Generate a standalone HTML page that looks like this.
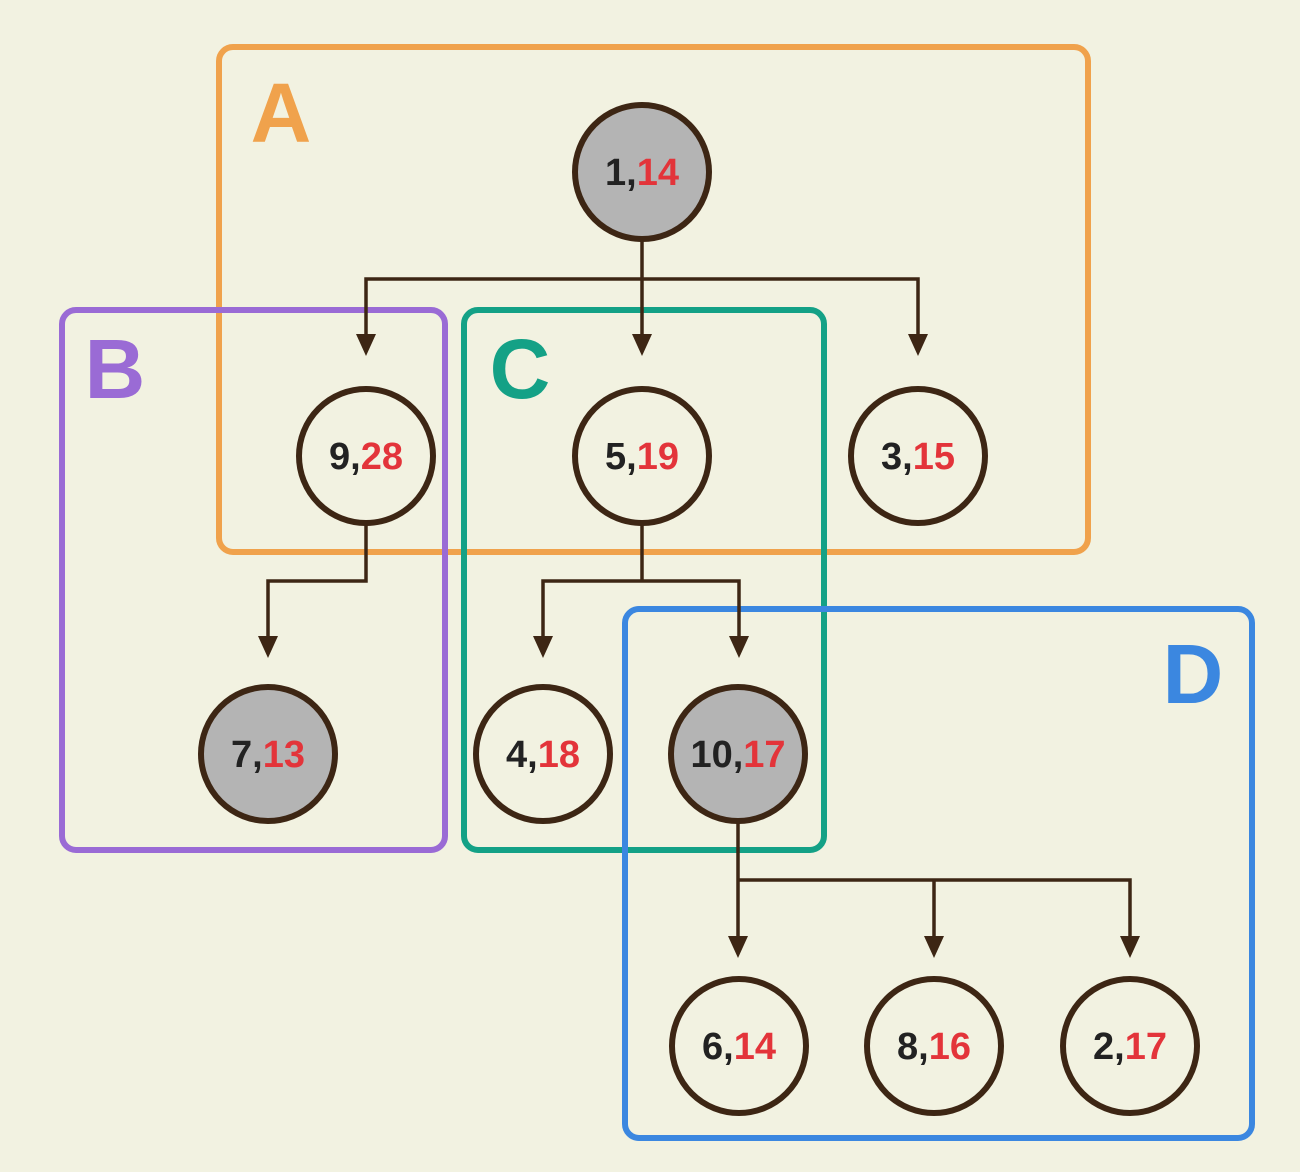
<!DOCTYPE html>
<html><head><meta charset="utf-8"><style>
html,body{margin:0;padding:0;background:#f2f2e1;}
svg{display:block}
text{font-family:"Liberation Sans","DejaVu Sans",sans-serif;font-weight:bold;}
</style></head><body>
<svg width="1300" height="1172" viewBox="0 0 1300 1172" xmlns="http://www.w3.org/2000/svg">
<rect width="1300" height="1172" fill="#f2f2e1"/>
<rect x="219" y="47" width="869" height="505" rx="14" fill="none" stroke="#f0a24c" stroke-width="6"/>
<rect x="62" y="310" width="383" height="540" rx="14" fill="none" stroke="#9a6bd5" stroke-width="6"/>
<rect x="464" y="310" width="360" height="540" rx="14" fill="none" stroke="#14a186" stroke-width="6"/>
<rect x="625" y="609" width="627" height="529" rx="14" fill="none" stroke="#3b87e0" stroke-width="6"/>
<text x="281" y="142" font-size="84" fill="#f0a24c" text-anchor="middle">A</text>
<text x="115" y="398" font-size="84" fill="#9a6bd5" text-anchor="middle">B</text>
<text x="520" y="398" font-size="84" fill="#14a186" text-anchor="middle">C</text>
<text x="1193" y="703" font-size="84" fill="#3b87e0" text-anchor="middle">D</text>
<g stroke="#3d2614" stroke-width="3.5" fill="none">
<path d="M642 239 V338 M366 338 V279 H918 V338"/>
<path d="M366 523 V581 H268 V640"/>
<path d="M642 523 V581 M543 640 V581 H739 V640"/>
<path d="M738 821 V940 M738 880 H1130 V940 M934 880 V940"/>
</g>
<g fill="#3d2614">
<path d="M356 334 L376 334 L366 356 Z"/>
<path d="M632 334 L652 334 L642 356 Z"/>
<path d="M908 334 L928 334 L918 356 Z"/>
<path d="M258 636 L278 636 L268 658 Z"/>
<path d="M533 636 L553 636 L543 658 Z"/>
<path d="M729 636 L749 636 L739 658 Z"/>
<path d="M728 936 L748 936 L738 958 Z"/>
<path d="M924 936 L944 936 L934 958 Z"/>
<path d="M1120 936 L1140 936 L1130 958 Z"/>
</g>
<g stroke="#3d2614" stroke-width="6">
<circle cx="642" cy="172" r="67" fill="#b4b4b4"/>
<circle cx="366" cy="456" r="67" fill="#f2f2e1"/>
<circle cx="642" cy="456" r="67" fill="#f2f2e1"/>
<circle cx="918" cy="456" r="67" fill="#f2f2e1"/>
<circle cx="268" cy="754" r="67" fill="#b4b4b4"/>
<circle cx="543" cy="754" r="67" fill="#f2f2e1"/>
<circle cx="738" cy="754" r="67" fill="#b4b4b4"/>
<circle cx="739" cy="1046" r="67" fill="#f2f2e1"/>
<circle cx="934" cy="1046" r="67" fill="#f2f2e1"/>
<circle cx="1130" cy="1046" r="67" fill="#f2f2e1"/>
</g>
<g font-size="38" text-anchor="middle" fill="#222">
<text x="642" y="185">1,<tspan fill="#e3343a">14</tspan></text>
<text x="366" y="469">9,<tspan fill="#e3343a">28</tspan></text>
<text x="642" y="469">5,<tspan fill="#e3343a">19</tspan></text>
<text x="918" y="469">3,<tspan fill="#e3343a">15</tspan></text>
<text x="268" y="767">7,<tspan fill="#e3343a">13</tspan></text>
<text x="543" y="767">4,<tspan fill="#e3343a">18</tspan></text>
<text x="738" y="767">10,<tspan fill="#e3343a">17</tspan></text>
<text x="739" y="1059">6,<tspan fill="#e3343a">14</tspan></text>
<text x="934" y="1059">8,<tspan fill="#e3343a">16</tspan></text>
<text x="1130" y="1059">2,<tspan fill="#e3343a">17</tspan></text>
</g>
</svg>
</body></html>
